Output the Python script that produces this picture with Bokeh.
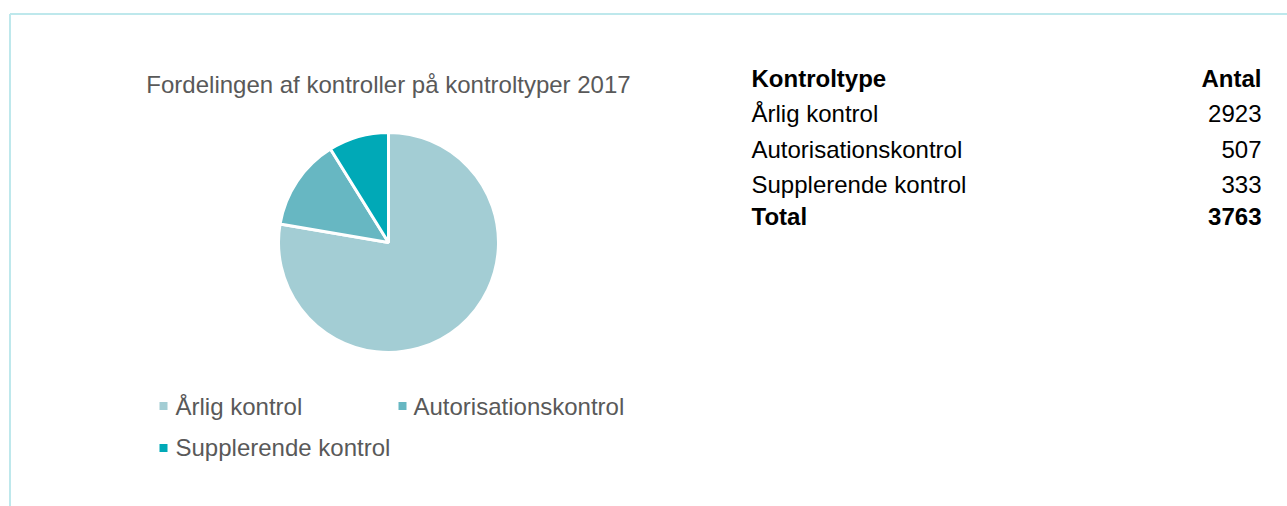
import numpy as np
from bokeh.plotting import figure
from bokeh.models import Range1d, ColumnDataSource
from bokeh.core.properties import value
from bokeh.embed import file_html
from bokeh.resources import INLINE

# ---- data ----
title = "Fordelingen af kontroller på kontroltyper 2017"
categories = ["Årlig kontrol", "Autorisationskontrol", "Supplerende kontrol"]
counts = [2923, 507, 333]
colors = ["#A3CDD4", "#67B7C2", "#00A9B7"]
table_header = ["Kontroltype", "Antal"]
total_label = "Total"

FONT = value("Liberation Sans")
FS = "24px"

W, H = 1287, 506
p = figure(width=W, height=H, output_backend="svg", toolbar_location=None,
           x_range=Range1d(0, W), y_range=Range1d(0, H),
           min_border=0, outline_line_color=None)
p.axis.visible = False
p.grid.visible = False
p.background_fill_color = "white"
p.border_fill_color = "white"

# y in data = H - image y
def Y(v):
    return H - v

# frame lines (top and left)
p.line(x=[9.5, W], y=[Y(13.5), Y(13.5)], line_color="#BEE8EC", line_width=2)
p.line(x=[9.5, 9.5], y=[Y(13.5), 0], line_color="#BEE8EC", line_width=2)

# ---- pie ----
vals = np.array(counts, dtype=float)
frac = vals / vals.sum()
cum = np.cumsum(frac)
prev = np.concatenate([[0.0], cum[:-1]])
start = np.pi / 2 - 2 * np.pi * prev
end = np.pi / 2 - 2 * np.pi * cum
src = ColumnDataSource(dict(start=start, end=end, color=colors, cat=categories, n=counts))
cx, cy, r = 388, Y(242), 110
p.wedge(x=cx, y=cy, radius=r, start_angle="start", end_angle="end", direction="clock",
        fill_color="color", line_color="white", line_width=3, source=src)

# title (vertically centred)
p.text(x=[cx], y=[Y(84)], text=[title], text_font=FONT, text_font_size=FS,
       text_color="#595959", text_align="center", text_baseline="middle")

# ---- legend ----
leg_sq_x = [163, 402, 163]
leg_sq_y = [Y(405.5), Y(405.5), Y(447.5)]
leg_tx_x = [175, 413, 175]
leg_tx_y = [Y(406), Y(406), Y(447)]
p.scatter(x=leg_sq_x, y=leg_sq_y, marker="square", size=8, fill_color=colors, line_color=None)
p.text(x=leg_tx_x, y=leg_tx_y, text=categories, text_font=FONT, text_font_size=FS,
       text_color="#595959", text_align="left", text_baseline="middle")

# ---- table ----
lx, rx = 751, 1261
row_y = [Y(78), Y(113), Y(148.5), Y(183.5), Y(215.5)]
p.text(x=[lx], y=[row_y[0]], text=[table_header[0]], text_font=FONT, text_font_size=FS,
       text_font_style="bold", text_color="black", text_baseline="middle")
p.text(x=[rx], y=[row_y[0]], text=[table_header[1]], text_font=FONT, text_font_size=FS,
       text_font_style="bold", text_color="black", text_align="right", text_baseline="middle")
p.text(x=[lx] * 3, y=row_y[1:4], text=categories, text_font=FONT, text_font_size=FS,
       text_color="black", text_baseline="middle")
p.text(x=[rx] * 3, y=row_y[1:4], text=[str(c) for c in counts], text_font=FONT, text_font_size=FS,
       text_color="black", text_align="right", text_baseline="middle")
p.text(x=[lx], y=[row_y[4]], text=[total_label], text_font=FONT, text_font_size=FS,
       text_font_style="bold", text_color="black", text_baseline="middle")
p.text(x=[rx], y=[row_y[4]], text=[str(int(vals.sum()))], text_font=FONT, text_font_size=FS,
       text_font_style="bold", text_color="black", text_align="right", text_baseline="middle")

open("out.html", "w").write(file_html(p, INLINE))
